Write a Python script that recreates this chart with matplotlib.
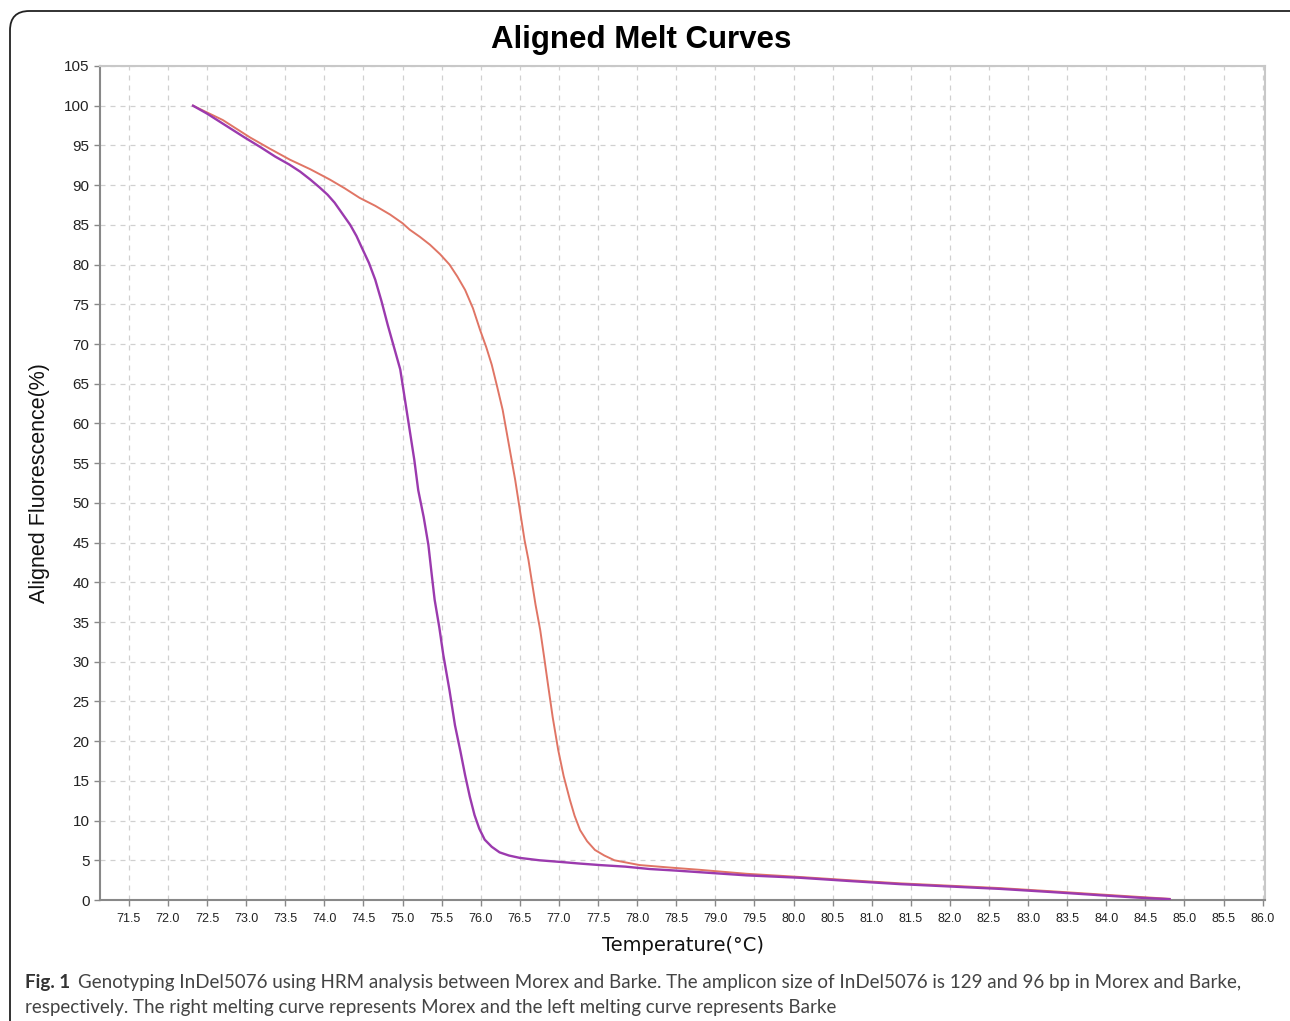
import matplotlib
matplotlib.use('Agg')
import matplotlib.pyplot as plt
from matplotlib.patches import FancyBboxPatch
import numpy as np

# Barke (left melting curve), purple
barke_temp = [72.32, 72.50, 72.66, 72.82, 72.98, 73.18, 73.37, 73.55, 73.69, 73.82, 73.94,
              74.04, 74.13, 74.23, 74.33, 74.41, 74.48, 74.57, 74.65, 74.73, 74.81, 74.89,
              74.97, 75.03, 75.09, 75.15, 75.20, 75.27, 75.33, 75.37, 75.41, 75.47, 75.52,
              75.60, 75.67, 75.74, 75.80, 75.86, 75.92, 75.98, 76.05, 76.14, 76.24, 76.36,
              76.50, 76.75, 77.01, 77.25, 77.52, 77.85, 78.16, 78.50, 78.80, 79.40, 80.08,
              80.70, 81.36, 82.00, 82.64, 83.30, 83.92, 84.40, 84.81]
barke_fluor = [100.0, 99.0, 98.0, 97.0, 96.0, 94.8, 93.6, 92.6, 91.7, 90.7, 89.7,
               88.8, 87.8, 86.4, 85.0, 83.6, 82.1, 80.2, 78.1, 75.4, 72.4, 69.6,
               66.8, 63.0, 59.2, 55.4, 51.6, 48.2, 44.7, 41.2, 37.8, 34.3, 30.9,
               26.4, 22.0, 18.7, 15.7, 13.0, 10.7, 9.0, 7.6, 6.7, 6.0, 5.6,
               5.3, 5.0, 4.8, 4.6, 4.4, 4.2, 3.9, 3.7, 3.5, 3.1, 2.8,
               2.4, 2.0, 1.7, 1.4, 1.0, 0.6, 0.3, 0.1]

# Morex (right melting curve), salmon
morex_temp = [72.32, 72.70, 73.05, 73.30, 73.56, 73.82, 74.07, 74.26, 74.45, 74.65, 74.84,
              75.00, 75.09, 75.22, 75.35, 75.48, 75.60, 75.70, 75.80, 75.90, 75.99, 76.07,
              76.14, 76.21, 76.28, 76.36, 76.44, 76.50, 76.56, 76.61, 76.65, 76.70, 76.76,
              76.81, 76.86, 76.92, 76.99, 77.06, 77.14, 77.20, 77.27, 77.36, 77.46, 77.58,
              77.71, 77.87, 78.03, 78.40, 78.80, 79.40, 80.08, 80.70, 81.36, 82.00, 82.64,
              83.30, 83.92, 84.40, 84.81]
morex_fluor = [100.0, 98.2, 96.0, 94.6, 93.2, 92.0, 90.7, 89.6, 88.4, 87.4, 86.3,
               85.2, 84.4, 83.5, 82.5, 81.3, 80.0, 78.5, 76.8, 74.5, 71.8, 69.6,
               67.4, 64.6, 61.7, 57.3, 52.9, 49.1, 45.3, 42.8, 40.3, 37.2, 34.0,
               30.6, 27.1, 23.0, 18.9, 15.6, 12.6, 10.6, 8.8, 7.4, 6.3, 5.6,
               5.0, 4.7, 4.4, 4.1, 3.8, 3.3, 2.9, 2.5, 2.1, 1.8, 1.5,
               1.1, 0.7, 0.4, 0.15]

x_ticks = np.arange(71.5, 86.01, 0.5)
y_ticks = np.arange(0, 106, 5)

fig = plt.figure(figsize=(12.9, 10.21), dpi=100)

# rounded panel frame (runs off the right and bottom edges)
frame = FancyBboxPatch((10 / 1290, -0.05), 1.2, 0.05 + 1 - 11 / 1021,
                       boxstyle='round,pad=0,rounding_size=0.015',
                       transform=fig.transFigure, fill=False,
                       edgecolor='#222222', linewidth=1.3, mutation_aspect=1290 / 1021)
fig.patches.append(frame)

ax = fig.add_axes([100 / 1290, 1 - 900 / 1021, 1165 / 1290, 834 / 1021])

ax.plot(morex_temp, morex_fluor, color='#e07565', linewidth=1.4, zorder=3)
ax.plot(barke_temp, barke_fluor, color='#9b3aae', linewidth=1.7, zorder=4)

ax.set_xlim(71.13, 86.03)
ax.set_ylim(0, 105)
ax.set_xticks(x_ticks)
ax.set_xticklabels(['%.1f' % t for t in x_ticks], fontsize=9,
                   family=['Liberation Sans Narrow', 'Liberation Sans', 'DejaVu Sans'], color='#222222')
ax.set_yticks(y_ticks)
ax.set_yticklabels([str(v) for v in y_ticks], fontsize=11,
                   family=['Liberation Sans', 'DejaVu Sans'], color='#222222')
ax.tick_params(axis='both', direction='out', length=4, color='#888888', width=1)
ax.tick_params(axis='x', pad=5)

ax.grid(True, color='#d0d0d0', linestyle=(0, (4, 4)), linewidth=0.9)
ax.set_axisbelow(True)

ax.spines['left'].set_color('#888888')
ax.spines['bottom'].set_color('#888888')
ax.spines['left'].set_linewidth(1.5)
ax.spines['bottom'].set_linewidth(1.5)
ax.spines['right'].set_color('#c8c8c8')
ax.spines['top'].set_color('#c8c8c8')
ax.spines['right'].set_linewidth(1.5)
ax.spines['top'].set_linewidth(1.5)

ax.set_xlabel('Temperature(°C)', fontsize=14, family=['Liberation Sans Narrow', 'DejaVu Sans'],
              labelpad=8, color='#111111')
ax.set_ylabel('Aligned Fluorescence(%)', fontsize=15.5, family=['Liberation Sans', 'DejaVu Sans'],
              labelpad=10, color='#111111')

fig.text(641 / 1290, 1 - 40 / 1021, 'Aligned Melt Curves', ha='center', va='center',
         fontsize=22.5, fontweight='bold', family=['Liberation Sans', 'DejaVu Sans'])

# caption
fig.text(25 / 1290, 1 - 982 / 1021, 'Fig. 1', ha='left', va='center', fontsize=13.5,
         fontweight='bold', family=['Lato', 'DejaVu Sans'], color='#333333')
fig.text(78 / 1290, 1 - 982 / 1021,
         'Genotyping InDel5076 using HRM analysis between Morex and Barke. The amplicon size of InDel5076 is 129 and 96 bp in Morex and Barke,',
         ha='left', va='center', fontsize=13.5, family=['Lato', 'DejaVu Sans'], color='#444444')
fig.text(25 / 1290, 1 - 1007 / 1021,
         'respectively. The right melting curve represents Morex and the left melting curve represents Barke',
         ha='left', va='center', fontsize=13.5, family=['Lato', 'DejaVu Sans'], color='#444444')

fig.savefig('out.png', dpi=100)
